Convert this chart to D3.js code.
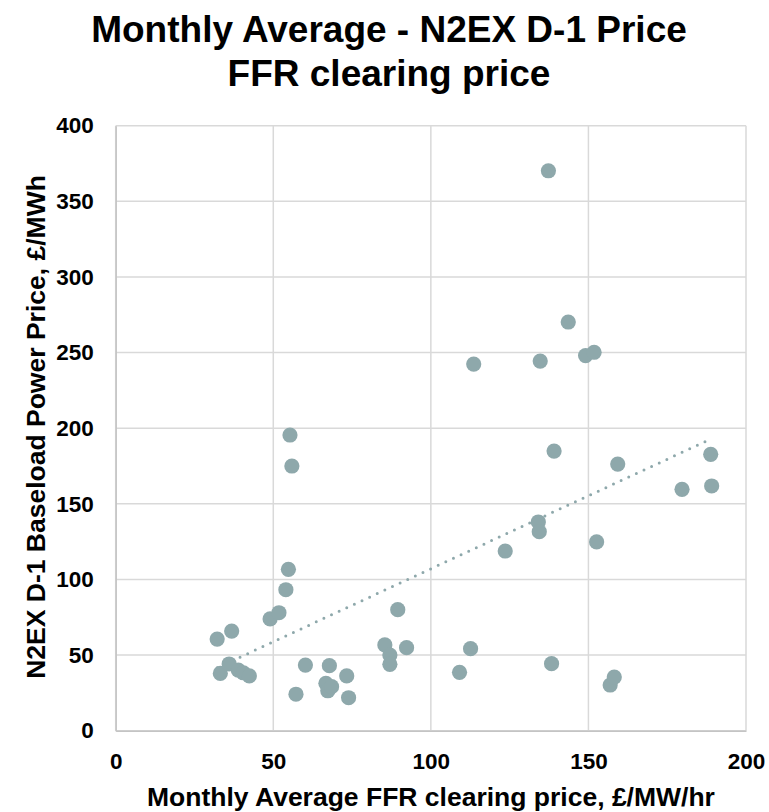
<!DOCTYPE html>
<html lang="en">
<head>
<meta charset="UTF-8">
<title>Monthly Average - N2EX D-1 Price vs FFR clearing price</title>
<script src="https://d3js.org/d3.v7.min.js"></script>
<style>
  body { margin: 0; background: #fff; }
  svg text { font-family: "Liberation Sans", Arial, sans-serif; font-weight: bold; fill: #000; }
</style>
</head>
<body>
<div id="chart"></div>
<script>
// FFR clearing price (x) and N2EX D-1 baseload price (y), monthly averages
const ffrPrice = [
  32.2, 36.8, 33.2, 36.0, 38.9, 40.5, 42.4, 49.0, 51.8, 54.0,
  54.8, 55.3, 55.9, 57.2, 60.2, 66.7, 67.3, 68.5, 67.8, 73.3,
  73.9, 85.4, 87.0, 87.0, 89.5, 92.3, 109.1, 112.6, 113.6, 123.6,
  134.1, 134.4, 134.7, 137.3, 138.3, 139.1, 143.6, 149.1, 151.8, 152.6,
  156.9, 158.2, 159.3, 179.7, 188.8, 189.1
];
const powerPrice = [
  60.6, 65.9, 37.9, 44.1, 40.1, 38.3, 36.2, 73.9, 78.0, 93.2,
  106.7, 195.5, 175.0, 24.1, 43.4, 31.3, 26.4, 29.1, 43.0, 36.2,
  21.8, 56.7, 50.0, 43.9, 80.0, 54.9, 38.6, 54.2, 242.4, 118.8,
  138.0, 131.6, 244.4, 370.2, 44.3, 184.9, 270.2, 248.0, 250.2, 124.8,
  30.2, 35.5, 176.3, 159.6, 182.7, 161.8
];
const xTicks = [0, 50, 100, 150, 200];
const yTicks = [0, 50, 100, 150, 200, 250, 300, 350, 400];

const titleLines = ["Monthly Average - N2EX D-1 Price", "FFR clearing price"];
const xTitle = "Monthly Average FFR clearing price, £/MW/hr";
const yTitle = "N2EX D-1 Baseload Power Price, £/MWh";

const W = 769, H = 812;
const plot = { left: 115.7, right: 746, top: 125.7, bottom: 730.7 };
const dotColor = "#8ea8ab";

const svg = d3.select("#chart").append("svg")
  .attr("width", W).attr("height", H);

const x = d3.scaleLinear().domain([0, 200]).range([plot.left, plot.right]);
const y = d3.scaleLinear().domain([0, 400]).range([plot.bottom, plot.top]);

// title, two lines
svg.append("text")
  .attr("y", 42)
  .attr("text-anchor", "middle")
  .style("font-size", "37px")
  .selectAll("tspan")
  .data(titleLines)
  .join("tspan")
  .attr("x", 389)
  .attr("dy", (d, i) => i === 0 ? 0 : 44)
  .text(d => d);

// gridlines
svg.append("g")
  .selectAll("line")
  .data(xTicks)
  .join("line")
  .attr("x1", d => x(d)).attr("x2", d => x(d))
  .attr("y1", plot.top).attr("y2", plot.bottom)
  .attr("stroke", "#d9d9d9").attr("stroke-width", 1.5);

svg.append("g")
  .selectAll("line")
  .data(yTicks)
  .join("line")
  .attr("x1", plot.left).attr("x2", plot.right)
  .attr("y1", d => y(d)).attr("y2", d => y(d))
  .attr("stroke", "#d9d9d9").attr("stroke-width", 1.5);

// axes
const xAxis = svg.append("g")
  .attr("transform", `translate(0,${plot.bottom})`)
  .call(d3.axisBottom(x).tickValues(xTicks).tickSize(0).tickPadding(22));
const yAxis = svg.append("g")
  .attr("transform", `translate(${plot.left},0)`)
  .call(d3.axisLeft(y).tickValues(yTicks).tickSize(0).tickPadding(22));

[xAxis, yAxis].forEach(g => {
  g.select(".domain").attr("stroke", "#c4c4c4").attr("stroke-width", 1.5);
  g.selectAll("text")
    .style("font-size", "22.5px")
    .style("font-family", "'Liberation Sans', Arial, sans-serif")
    .style("font-weight", "bold")
    .attr("fill", "#000");
});

// linear trendline (least squares)
const mx = d3.mean(ffrPrice), my = d3.mean(powerPrice);
const slope = d3.sum(ffrPrice, (v, i) => (v - mx) * (powerPrice[i] - my)) /
  d3.sum(ffrPrice, v => (v - mx) * (v - mx));
const intercept = my - slope * mx;
const xr = d3.extent(ffrPrice);

svg.append("line")
  .attr("x1", x(xr[0])).attr("y1", y(intercept + slope * xr[0]))
  .attr("x2", x(xr[1])).attr("y2", y(intercept + slope * xr[1]))
  .attr("stroke", dotColor)
  .attr("stroke-width", 3)
  .attr("stroke-linecap", "round")
  .attr("stroke-dasharray", "0 8.4");

// points
svg.append("g")
  .selectAll("circle")
  .data(ffrPrice.map((v, i) => [v, powerPrice[i]]))
  .join("circle")
  .attr("cx", d => x(d[0]))
  .attr("cy", d => y(d[1]))
  .attr("r", 7.6)
  .attr("fill", dotColor);

// axis titles
svg.append("text")
  .attr("x", 431)
  .attr("y", 806)
  .attr("text-anchor", "middle")
  .style("font-size", "26.5px")
  .text(xTitle);

svg.append("text")
  .attr("transform", "translate(45,427) rotate(-90)")
  .attr("text-anchor", "middle")
  .style("font-size", "26.5px")
  .text(yTitle);
</script>
</body>
</html>
